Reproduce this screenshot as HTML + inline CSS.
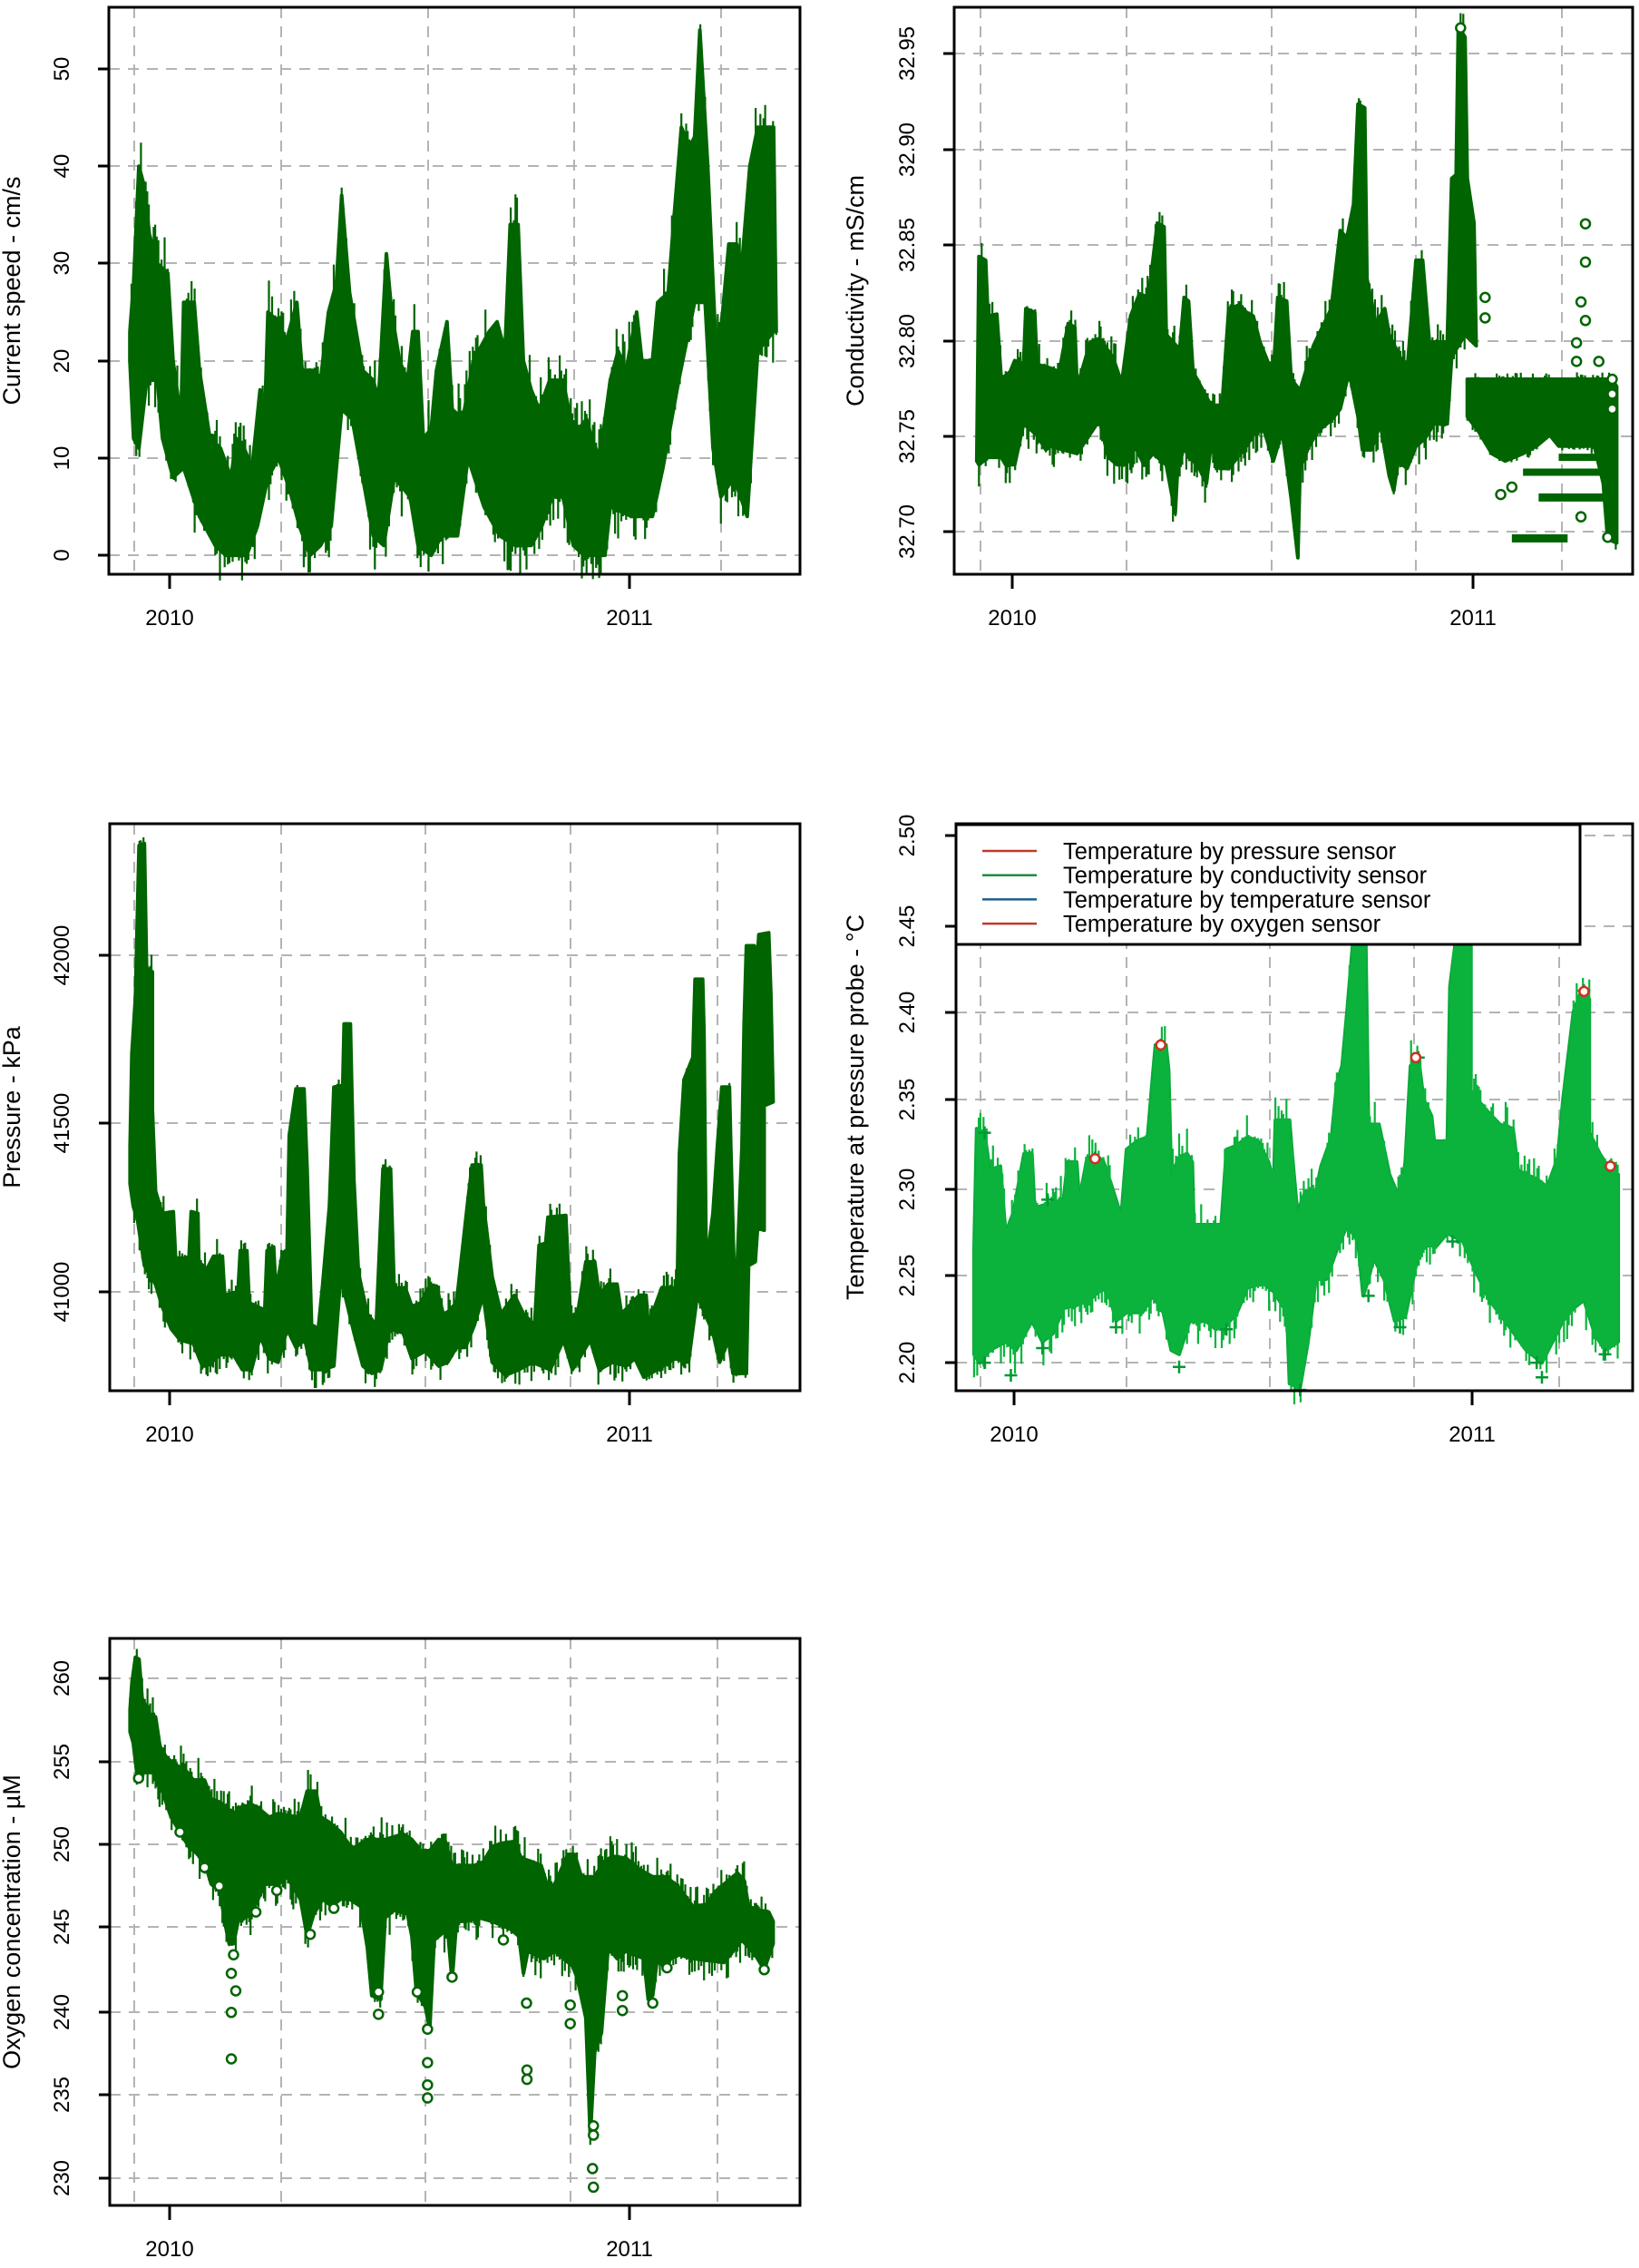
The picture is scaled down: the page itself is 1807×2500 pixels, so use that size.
<!DOCTYPE html>
<html><head><meta charset="utf-8"><style>
html,body{margin:0;padding:0;background:#fff;}
svg{display:block;font-family:"Liberation Sans",Arial,sans-serif;}
</style></head><body>
<svg id="s" width="1807" height="2500" viewBox="0 0 1807 2500" xmlns="http://www.w3.org/2000/svg"></svg>
<script>
const S=document.getElementById('s');let H='';
const G='#006400';
let seed=12345;function rnd(){seed=(seed*16807)%2147483647;return seed/2147483647;}
function grid(l,t,r,b,xs,ys){for(const x of xs)H+=`<line x1="${x}" y1="${t}" x2="${x}" y2="${b}" stroke="#b4b4b4" stroke-width="2" stroke-dasharray="12,9"/>`;
for(const y of ys)H+=`<line x1="${l}" y1="${y}" x2="${r}" y2="${y}" stroke="#b4b4b4" stroke-width="2" stroke-dasharray="12,9"/>`;}
function frame(l,t,r,b,yt,xt,ylab,lx,tx){
H+=`<rect x="${l}" y="${t}" width="${r-l}" height="${b-t}" fill="none" stroke="#000" stroke-width="3"/>`;
for(const [y,s] of yt){H+=`<line x1="${l-12}" y1="${y}" x2="${l}" y2="${y}" stroke="#000" stroke-width="3"/>`;
H+=`<text transform="translate(${tx},${y}) rotate(-90)" text-anchor="middle" font-size="24">${s}</text>`;}
for(const [x,s] of xt){H+=`<line x1="${x}" y1="${b}" x2="${x}" y2="${b+16}" stroke="#000" stroke-width="3"/>`;
H+=`<text x="${x}" y="${b+56}" text-anchor="middle" font-size="24">${s}</text>`;}
H+=`<text transform="translate(${lx},${(t+b)/2}) rotate(-90)" text-anchor="middle" font-size="27">${ylab}</text>`;}
function interp(a,x){ // a sorted by x asc
 if(x<=a[0][0])return a[0][1]; for(let i=1;i<a.length;i++){if(x<=a[i][0]){const p=a[i-1],q=a[i];const d=q[0]-p[0];return d<=0?q[1]:p[1]+(q[1]-p[1])*(x-p[0])/d;}} return a[a.length-1][1];}
function poly(up,lo,T,fill,stroke,amp){const p=up.concat(lo).map(q=>((T[0]+q[0]/T[2]).toFixed(1)+','+(T[1]+q[1]/T[3]).toFixed(1))).join(' ');
H+=`<polygon points="${p}" fill="${fill}" stroke="${stroke||fill}" stroke-width="4" stroke-linejoin="round"/>`;
// jagged texture
const U=up.slice().sort((a,b)=>a[0]-b[0]),L=lo.slice().sort((a,b)=>a[0]-b[0]);
const x0=Math.max(U[0][0],L[0][0]),x1=Math.min(U[U.length-1][0],L[L.length-1][0]);let d='';
for(let x=x0;x<=x1;x+=3){const u=interp(U,x),l=interp(L,x);const r1=rnd(),r2=rnd();
 const uu=u-Math.pow(r1,4)*amp,ll=l+Math.pow(r2,4)*amp;const X=(T[0]+x/T[2]).toFixed(1);
 d+=`M${X},${(T[1]+uu/T[3]).toFixed(1)}V${(T[1]+ll/T[3]).toFixed(1)}`;}
H+=`<path d="${d}" stroke="${fill}" stroke-width="2.2" fill="none"/>`;}
function circ(pts,T,c){for(const q of pts)H+=`<circle cx="${T[0]+q[0]/T[2]}" cy="${T[1]+q[1]/T[3]}" r="5" fill="#fff" stroke="${c||G}" stroke-width="2.5"/>`;}
function bar(x1,x2,y,T,h){H+=`<rect x="${T[0]+x1/T[2]}" y="${T[1]+y/T[3]-h/2}" width="${(x2-x1)/T[2]}" height="${h}" fill="${G}"/>`;}

// Panel 1
let T1=[-0.8,0.2,1.722,2.177];
grid(120,8,882,633,[148,310,472,633,795],[612,505,398,290,183,76]);
let u1=[[248,23],[255,28],[265,40],[275,38],[285,33],[300,30],[320,29],[330,20],[345,14],[350,26],[370,26],[380,19],[400,12],[420,11],[440,8],[450,12],[465,11],[480,9],[495,17],[505,16],[510,25],[530,24],[545,22],[565,26],[575,19],[600,19],[610,18],[625,25],[640,28],[650,37],[665,27],[690,19],[710,18],[720,16],[735,31],[745,25],[760,20],[775,18],[785,23],[795,23],[805,12],[820,13],[830,19],[850,24],[860,15],[880,14],[900,20],[930,23],[945,24],[960,21],[970,34],[985,34],[995,20],[1010,17],[1025,15],[1045,18],[1070,18],[1085,14],[1100,13],[1115,14],[1125,12],[1140,10],[1160,18],[1175,21],[1190,19],[1210,25],[1220,20],[1240,20],[1250,26],[1270,27],[1280,34],[1295,44],[1310,42],[1320,43],[1330,54],[1345,40],[1360,22],[1370,23],[1385,32],[1400,32],[1410,30],[1425,40],[1440,44],[1470,44],[1475,23]];
let l1=[[248,20],[255,12],[265,11],[280,18],[300,18],[310,12],[330,8],[350,9],[380,4],[410,1],[430,0],[470,0],[490,3],[510,8],[530,10],[550,7],[570,3],[590,0],[610,1],[630,3],[650,15],[670,14],[690,8],[710,2],[730,1],[750,8],[780,6],[795,1],[820,0],[840,2],[870,2],[890,10],[920,5],[950,2],[980,1],[1010,1],[1030,3],[1050,6],[1070,6],[1090,1],[1110,0],[1150,0],[1160,5],[1200,4],[1240,4],[1260,9],[1290,18],[1320,26],[1340,26],[1355,11],[1370,6],[1395,8],[1420,4],[1440,21],[1470,23],[1475,23]].reverse();
const cv=a=>a.map(q=>[q[0],Math.min(1332,1332-q[1]*23.34)]);
poly(cv(u1),cv(l1),T1,G,G,80);
frame(120,8,882,633,[[612,'0'],[505,'10'],[398,'20'],[290,'30'],[183,'40'],[76,'50']],[[187,'2010'],[694,'2011']],'Current speed - cm/s',22,76);

// Panel 2
let T2=[1040,0,2.034,2.44];
grid(1052,8,1800,633,[1081,1242,1402,1561,1722],[59,165,270,376,481,586]);
let u2=[[75,1240],[80,690],[95,700],[100,850],[120,845],[130,1020],[150,1000],[160,970],[180,980],[185,830],[205,840],[210,980],[240,990],[260,1000],[280,870],[295,880],[300,1040],[330,920],[350,910],[380,960],[400,1030],[420,850],[440,790],[460,800],[480,600],[495,610],[500,900],[530,940],[540,800],[550,810],[560,1000],[600,1090],[625,1090],[640,830],[665,820],[680,840],[695,850],[710,920],[740,1010],[750,800],[770,810],[780,1020],[800,1050],[830,930],[850,880],[870,830],[890,620],[905,640],[920,550],[930,280],[945,290],[950,750],[970,870],[990,830],[1000,900],[1040,1000],[1060,700],[1075,700],[1090,920],[1130,920],[1140,480],[1150,470],[1155,70],[1170,100],[1175,480],[1190,600],[1195,930]];
let u2b=[[1175,1020],[1260,1020],[1370,1020],[1500,1020],[1510,1040]];
let lo2=[[1510,1460],[1490,1450],[1480,1300],[1460,1200],[1380,1200],[1360,1170],[1330,1200],[1300,1220],[1260,1240],[1230,1220],[1200,1160],[1175,1120]];
let lo2b=[[1170,900],[1140,960],[1130,1140],[1100,1140],[1080,1180],[1060,1200],[1040,1260],[1020,1240],[1010,1320],[1000,1280],[980,1140],[960,1210],[940,1210],[930,1120],[910,1000],[890,1100],[870,1130],[840,1160],[820,1200],[800,1260],[795,1500],[780,1340],[760,1160],[740,1240],[720,1160],[700,1160],[680,1200],[640,1260],[620,1260],[600,1200],[590,1300],[570,1250],[550,1230],[540,1200],[525,1270],[520,1380],[500,1250],[470,1220],[450,1250],[430,1200],[410,1250],[390,1250],[370,1230],[350,1130],[300,1220],[270,1210],[240,1200],[230,1210],[210,1170],[180,1140],[160,1250],[140,1250],[130,1230],[100,1230],[80,1250]];
poly(u2,lo2b,T2,G,G,60);
poly(u2b,lo2,T2,G,G,20);
bar(1275,1400,1448,T2,9);bar(1335,1500,1338,T2,9);bar(1300,1500,1270,T2,8);bar(1380,1500,1230,T2,8);
circ([[1440,602],[1440,705],[1430,812],[1440,862],[1420,922],[1215,800],[1215,855],[1470,972],[1420,972],[1160,75],[1500,1020],[1500,1060],[1500,1100],[1490,1445],[1250,1330],[1275,1310],[1430,1390]],T2);
frame(1052,8,1800,633,[[586,'32.70'],[481,'32.75'],[376,'32.80'],[270,'32.85'],[165,'32.90'],[59,'32.95']],[[1116,'2010'],[1624,'2011']],'Conductivity - mS/cm',952,1008);

// Panel 3
let T3=[110,895,2.034,2.44];
grid(121,908,882,1533,[148,310,469,629,791],[1053,1238,1424]);
let u3=[[68,900],[72,650],[80,500],[88,90],[100,85],[105,420],[118,430],[118,800],[125,1020],[140,1080],[165,1075],[170,1200],[200,1200],[205,1075],[220,1080],[222,1210],[240,1230],[255,1195],[275,1195],[280,1300],[310,1290],[315,1180],[330,1180],[335,1320],[370,1340],[375,1180],[390,1170],[395,1290],[410,1185],[420,1180],[425,870],[440,745],[458,745],[465,960],[475,1380],[490,1390],[500,1270],[515,1060],[525,740],[545,735],[548,570],[562,570],[565,740],[570,990],[580,1240],[600,1350],[620,1380],[635,960],[652,960],[660,1280],[685,1280],[700,1330],[720,1320],[740,1275],[755,1275],[770,1350],[780,1345],[800,1320],[825,1050],[835,950],[855,950],[860,1050],[880,1250],[900,1350],[930,1300],[950,1350],[975,1380],[985,1165],[1000,1160],[1005,1090],[1045,1085],[1055,1350],[1070,1360],[1090,1210],[1110,1210],[1120,1300],[1140,1270],[1160,1270],[1170,1350],[1210,1300],[1225,1300],[1230,1380],[1260,1280],[1295,1280],[1300,920],[1310,720],[1330,660],[1335,450],[1352,450],[1355,600],[1360,1220],[1375,1080],[1385,900],[1395,740],[1412,740],[1415,900],[1425,1350],[1440,900],[1445,570],[1450,360],[1468,360],[1470,490],[1478,330],[1500,325],[1505,490],[1510,780],[1490,790],[1490,1125],[1475,1120],[1470,1210],[1455,1220]];
let lo3=[[1450,1510],[1420,1510],[1410,1420],[1390,1480],[1375,1400],[1340,1300],[1320,1480],[1290,1470],[1250,1500],[1220,1520],[1200,1470],[1180,1490],[1150,1480],[1120,1500],[1100,1420],[1060,1500],[1040,1420],[1010,1500],[970,1480],[940,1500],[910,1515],[880,1480],[860,1300],[840,1380],[820,1440],[800,1440],[780,1480],[760,1490],[730,1450],[700,1470],[680,1400],[650,1390],[630,1500],[610,1510],[590,1490],[570,1400],[550,1300],[540,1250],[525,1490],[500,1500],[475,1500],[460,1420],[440,1440],[420,1390],[400,1480],[380,1470],[360,1410],[340,1500],[320,1500],[300,1460],[270,1460],[240,1490],[230,1490],[210,1430],[180,1420],[160,1390],[140,1330],[125,1270],[100,1220],[85,1100],[75,1060],[68,1000]];
poly(u3,lo3,T3,G,G,50);
frame(121,908,882,1533,[[1424,'41000'],[1238,'41500'],[1053,'42000']],[[187,'2010'],[694,'2011']],'Pressure - kPa',22,76);

// Panel 4
let T4=[900,880,1.725,2.17];
grid(1054,908,1800,1533,[1081,1242,1400,1559,1719],[921,1021,1116,1212,1311,1406,1502]);
let u4=[[300,1080],[305,790],[320,800],[330,890],[350,880],[360,1040],[375,990],[395,850],[410,850],[415,980],[440,970],[470,960],[478,870],[495,870],[500,960],[515,860],[545,865],[560,920],[580,1000],[590,840],[610,820],[630,810],[640,660],[645,590],[665,590],[670,650],[675,900],[690,860],[705,850],[715,870],[718,1020],[760,1020],[770,1020],[780,840],[800,830],[820,810],[840,820],[860,870],[870,920],[873,770],[900,770],[905,850],[915,990],[930,940],[950,940],[960,880],[980,810],[990,680],[1000,640],[1010,500],[1020,350],[1045,350],[1050,780],[1070,780],[1090,900],[1110,960],[1120,870],[1130,640],[1145,620],[1155,720],[1170,760],[1175,820],[1200,820],[1205,450],[1215,350],[1245,350],[1245,700],[1270,740],[1300,780],[1325,790],[1335,890],[1350,900],[1370,910],[1390,930],[1410,860],[1420,720],[1440,510],[1455,460],[1470,480],[1470,800],[1490,850],[1505,880],[1525,900]];
let lo4=[[1525,1300],[1500,1320],[1480,1280],[1460,1200],[1440,1220],[1420,1250],[1400,1300],[1380,1350],[1350,1320],[1310,1250],[1280,1200],[1250,1120],[1230,1060],[1200,1040],[1180,1070],[1150,1070],[1140,1120],[1120,1240],[1100,1250],[1080,1150],[1060,1100],[1050,1150],[1040,1190],[1030,1060],[1010,1020],[990,1080],[970,1150],[950,1150],[935,1300],[920,1410],[900,1400],[895,1230],[870,1180],[850,1160],[820,1170],[800,1230],[780,1260],[760,1270],[740,1250],[710,1250],[690,1330],[675,1320],[660,1230],[640,1190],[620,1230],[590,1230],[570,1250],[560,1200],[545,1170],[520,1200],[500,1210],[470,1220],[450,1280],[430,1300],[410,1250],[380,1320],[360,1300],[330,1320],[310,1350],[300,1330]];
poly(u4,lo4,T4,'#0bb33c','#09a838',60);
for(const q of [[320,800],[440,960],[530,860],[655,590],[1145,620],[1460,460],[1510,880],[320,1350],[370,1380],[430,1315],[570,1265],[690,1360],[780,1270],[920,1415],[1050,1190],[1110,1265],[1380,1385],[1370,1350],[1500,1330],[1210,1060]]){
const x=T4[0]+q[0]/T4[2],y=T4[1]+q[1]/T4[3];H+=`<path d="M${x-7},${y}h14M${x},${y-7}v14" stroke="#009933" stroke-width="2.5"/>`;}
circ([[655,590],[1140,620],[1460,462],[1510,880],[530,862]],T4,'#d03020');
frame(1054,908,1800,1533,[[1502,'2.20'],[1406,'2.25'],[1311,'2.30'],[1212,'2.35'],[1116,'2.40'],[1021,'2.45'],[921,'2.50']],[[1118,'2010'],[1623,'2011']],'Temperature at pressure probe - °C',952,1008);
H+=`<rect x="1054" y="909" width="688" height="132" fill="#fff" stroke="#000" stroke-width="3"/>`;
const leg=[['#c0392b','Temperature by pressure sensor'],['#1a8f3a','Temperature by conductivity sensor'],['#1f5f8f','Temperature by temperature sensor'],['#c0392b','Temperature by oxygen sensor']];
leg.forEach((e,i)=>{const y=938+i*26.7;H+=`<line x1="1083" y1="${y}" x2="1143" y2="${y}" stroke="${e[0]}" stroke-width="2.5"/><text x="1172" y="${y+9}" font-size="25.5">${e[1]}</text>`;});

// Panel 5
let T5=[110,1790,2.034,2.44];
grid(121,1806,882,2431,[148,310,469,629,791],[1850,1942,2033,2124,2218,2309,2401]);
let u5=[[68,230],[72,160],[80,90],[88,95],[95,200],[110,240],[125,250],[135,330],[150,360],[170,380],[190,390],[210,420],[235,420],[250,470],[270,480],[300,510],[320,490],[350,490],[380,520],[400,510],[420,515],[450,520],[465,450],[485,450],[495,520],[510,530],[540,560],[565,605],[600,580],[640,580],[680,565],[700,580],[720,610],[740,610],[760,580],[775,585],[790,650],[810,650],[840,650],[860,640],[880,600],[900,590],[930,585],[945,630],[970,640],[990,650],[1005,710],[1020,700],[1050,620],[1065,620],[1080,680],[1110,680],[1130,640],[1150,625],[1180,630],[1210,660],[1240,680],[1270,680],[1300,710],[1330,760],[1360,755],[1380,720],[1410,690],[1430,670],[1445,690],[1455,760],[1480,770],[1500,775],[1510,800]];
let lo5=[[1510,860],[1490,930],[1470,890],[1440,850],[1400,910],[1360,905],[1330,900],[1300,890],[1280,900],[1270,930],[1250,900],[1240,1000],[1230,1010],[1220,900],[1180,880],[1160,900],[1140,870],[1125,1100],[1110,1150],[1100,1380],[1090,1060],[1070,950],[1060,920],[1040,900],[1020,880],[995,900],[960,880],[950,940],[940,840],[920,820],[880,800],[850,790],[820,800],[800,800],[790,960],[780,820],[750,850],[740,1090],[730,1030],[710,990],[700,840],[690,780],[660,770],[640,790],[630,1010],[610,1000],[600,870],[585,760],[560,740],[540,740],[520,760],[500,740],[480,780],[465,840],[450,740],[420,680],[400,700],[370,700],[340,780],[310,800],[300,860],[290,860],[280,800],[270,720],[250,700],[240,660],[220,620],[200,600],[180,560],[160,520],[140,450],[120,400],[95,400],[85,420],[75,320],[68,290]];
poly(u5,lo5,T5,G,G,60);
circ([[87,415],[180,560],[235,655],[295,1045],[295,1170],[305,987],[300,890],[472,835],[397,717],[625,1050],[735,1180],[735,1240],[735,1275],[790,950],[905,850],[957,1020],[958,1200],[958,1225],[1055,1025],[1055,1075],[1105,1465],[1107,1515],[1107,1350],[1107,1375],[1172,1000],[1172,1040],[1240,1020],[1272,925],[1490,930],[525,765],[350,775],[268,705],[295,940],[625,990],[712,990],[735,1090]],T5);
frame(121,1806,882,2431,[[2401,'230'],[2309,'235'],[2218,'240'],[2124,'245'],[2033,'250'],[1942,'255'],[1850,'260']],[[187,'2010'],[694,'2011']],'Oxygen concentration - µM',22,76);
S.innerHTML=H;
</script>
</body></html>
